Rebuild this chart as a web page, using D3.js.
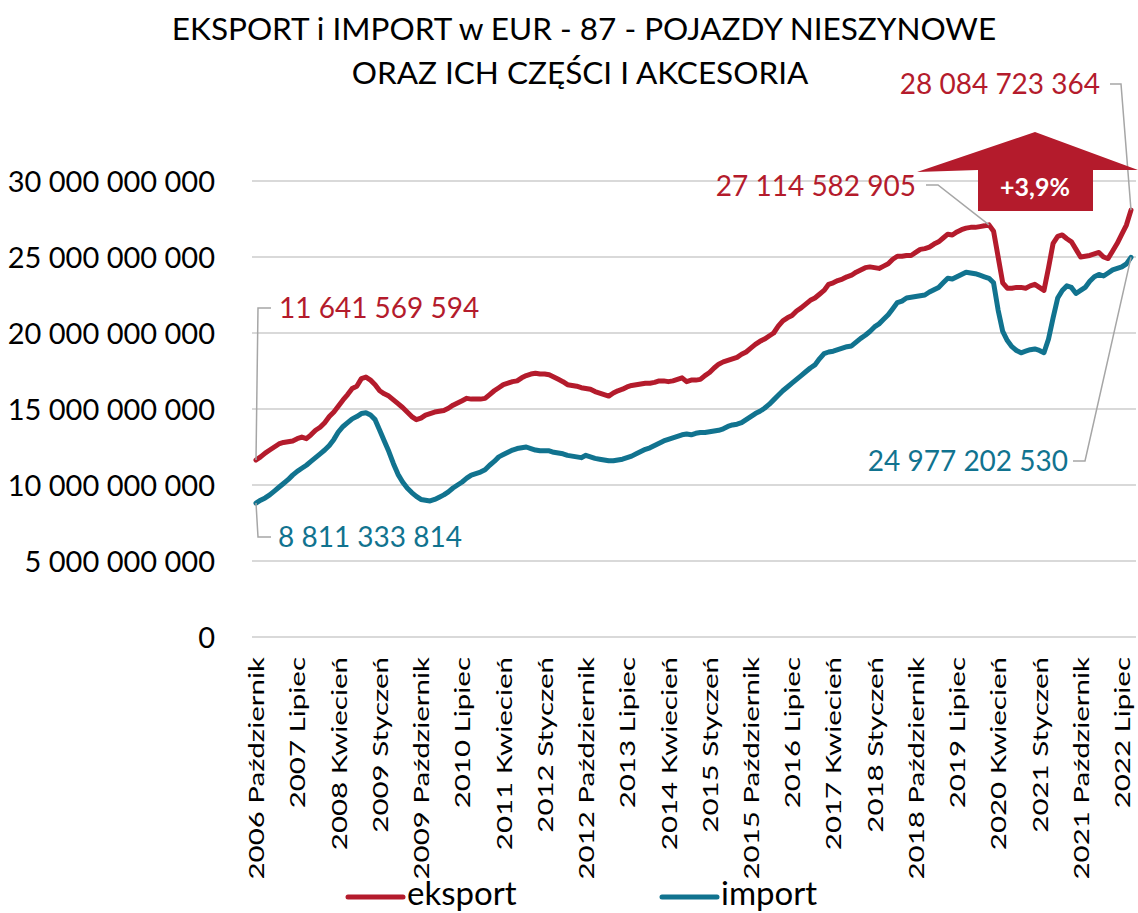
<!DOCTYPE html>
<html>
<head>
<meta charset="utf-8">
<script src="https://cdn.jsdelivr.net/npm/d3@7"></script>
<style>
  html, body { margin: 0; padding: 0; background: #fff; }
  svg { display: block; font-family: Lato, "Open Sans", "Noto Sans", sans-serif; }
</style>
</head>
<body>
<svg id="chart" width="1138" height="913"></svg>
<script>
// ---------- DATA (values in billions of EUR, monthly, 2006-10 .. 2022-09) ----------
const monthNames = ["Styczeń","Luty","Marzec","Kwiecień","Maj","Czerwiec","Lipiec","Sierpień","Wrzesień","Październik","Listopad","Grudzień"];
const startYear = 2006, startMonth = 9; // October (0-based)

const eksport = [
11.64,11.85,12.1,12.3,12.5,12.7,12.8,12.85,12.9,13.05,13.15,13.05,13.3,13.6,13.8,14.1,14.5,14.8,15.2,15.6,
15.95,16.35,16.5,17.0,17.1,16.9,16.6,16.2,16.0,15.85,15.6,15.35,15.1,14.8,14.5,14.3,14.4,14.6,14.7,14.8,
14.85,14.9,15.05,15.25,15.4,15.55,15.7,15.65,15.65,15.65,15.7,15.95,16.2,16.4,16.6,16.7,16.8,16.85,17.05,17.2,17.3,
17.35,17.3,17.3,17.25,17.1,16.95,16.8,16.6,16.55,16.5,16.4,16.35,16.3,16.15,16.05,15.95,15.85,16.05,16.2,16.3,
16.45,16.55,16.6,16.65,16.7,16.7,16.75,16.85,16.85,16.8,16.85,16.95,17.05,16.8,16.9,16.9,16.95,17.2,17.4,17.7,
17.95,18.1,18.2,18.3,18.4,18.6,18.75,19.0,19.25,19.45,19.6,19.8,20.0,20.45,20.8,21.0,21.15,21.45,21.65,21.9,
22.15,22.3,22.55,22.8,23.2,23.3,23.45,23.55,23.7,23.8,24.0,24.15,24.3,24.35,24.3,24.25,24.4,24.55,24.85,25.05,
25.05,25.1,25.1,25.3,25.5,25.55,25.65,25.85,26.0,26.25,26.5,26.45,26.65,26.8,26.9,26.95,26.95,27.0,27.05,27.114582905,26.7,
25.0,23.3,22.95,22.95,23.0,23.0,22.95,23.1,23.2,23.0,22.8,24.3,25.9,26.35,26.45,26.2,26.0,25.5,25.0,25.05,
25.1,25.2,25.3,25.0,24.9,25.4,25.9,26.5,27.1,28.084723364
];

const importValues = [
8.811333814,9.0,9.15,9.35,9.6,9.85,10.1,10.35,10.65,10.9,11.1,11.3,11.55,11.8,12.05,12.3,12.6,13.0,13.5,13.85,
14.1,14.35,14.5,14.7,14.75,14.6,14.3,13.6,12.9,12.2,11.4,10.7,10.2,9.8,9.5,9.25,9.05,9.0,8.95,9.05,
9.2,9.35,9.55,9.8,10.0,10.2,10.45,10.65,10.75,10.85,11.0,11.3,11.55,11.85,12.0,12.15,12.3,12.4,12.45,12.5,12.4,
12.3,12.25,12.25,12.25,12.15,12.1,12.05,11.95,11.9,11.85,11.8,11.95,11.85,11.75,11.7,11.65,11.6,11.6,11.65,11.7,
11.8,11.9,12.05,12.2,12.35,12.45,12.6,12.75,12.9,13.0,13.1,13.2,13.3,13.35,13.3,13.4,13.45,13.45,13.5,13.55,
13.6,13.7,13.85,13.95,14.0,14.1,14.3,14.5,14.7,14.85,15.05,15.3,15.6,15.9,16.2,16.45,16.7,16.95,17.2,17.45,
17.7,17.9,18.3,18.65,18.75,18.8,18.9,19.0,19.1,19.15,19.4,19.65,19.85,20.1,20.4,20.6,20.9,21.2,21.6,22.0,
22.1,22.3,22.35,22.4,22.45,22.5,22.7,22.85,23.0,23.3,23.6,23.55,23.7,23.85,24.0,23.95,23.9,23.8,23.7,23.6,23.3,
21.5,20.1,19.5,19.1,18.85,18.7,18.8,18.9,18.95,18.85,18.7,19.6,21.0,22.3,22.8,23.1,23.0,22.6,22.8,23.0,
23.4,23.7,23.85,23.75,23.95,24.15,24.25,24.35,24.55,24.977202530
];

const yTickValues = [0, 5, 10, 15, 20, 25, 30];
const yTickLabels = ["0","5 000 000 000","10 000 000 000","15 000 000 000","20 000 000 000","25 000 000 000","30 000 000 000"];
const xTickStep = 9;

const seriesNames = ["eksport", "import"];
const seriesColors = ["#b41b2c", "#11738f"];

const titleLines = ["EKSPORT i IMPORT w EUR - 87 - POJAZDY NIESZYNOWE", "ORAZ ICH CZĘŚCI I AKCESORIA"];
const annotationTexts = {
  eksFirst: "11 641 569 594",
  impFirst: "8 811 333 814",
  eksPeak: "27 114 582 905",
  impLast: "24 977 202 530",
  eksLast: "28 084 723 364",
  change: "+3,9%"
};

// ---------- CHART ----------
const n = eksport.length;
const categories = d3.range(n).map(i => {
  const m = startMonth + i;
  return (startYear + Math.floor(m / 12)) + " " + monthNames[m % 12];
});

const svg = d3.select("#chart");
const x = d3.scalePoint().domain(d3.range(n)).range([256, 1131]);
const y = d3.scaleLinear().domain([0, 30]).range([637, 181]);

// gridlines
svg.append("g").selectAll("line").data(yTickValues).join("line")
  .attr("x1", 252).attr("x2", 1136)
  .attr("y1", d => y(d)).attr("y2", d => y(d))
  .attr("stroke", "#d9d9d9").attr("stroke-width", 2);

// y axis labels
const yAxis = d3.axisLeft(y).tickValues(yTickValues)
  .tickFormat((d, i) => yTickLabels[i]).tickSize(0).tickPadding(0);
const gy = svg.append("g").attr("transform", "translate(215,0)").call(yAxis);
gy.select(".domain").remove();
gy.selectAll("text").attr("font-size", 29).attr("fill", "#000")
  .attr("font-family", "Lato, 'Open Sans', sans-serif").attr("dy", "0.35em");

// x axis labels
const xTicks = d3.range(0, n, xTickStep);
const xAxis = d3.axisBottom(x).tickValues(xTicks).tickFormat(i => categories[i]).tickSize(0).tickPadding(0);
const gx = svg.append("g").attr("transform", "translate(0,657)").call(xAxis);
gx.select(".domain").remove();
gx.selectAll("text")
  .attr("font-size", 22).attr("fill", "#000")
  .attr("font-family", "Lato, 'Open Sans', sans-serif")
  .attr("text-anchor", "end")
  .attr("transform", "rotate(-90) scale(1.34,1)")
  .attr("x", 0).attr("y", 0).attr("dy", "0.35em");

// lines
const line = d3.line().x((d, i) => x(i)).y(d => y(d));
[eksport, importValues].forEach((s, k) => {
  svg.append("path").datum(s)
    .attr("d", line)
    .attr("fill", "none")
    .attr("stroke", seriesColors[k])
    .attr("stroke-width", 5)
    .attr("stroke-linejoin", "round")
    .attr("stroke-linecap", "round");
});

// annotations
const red = seriesColors[0], blue = seriesColors[1];
const leader = "#a6a6a6";
const annFont = 28;
function lbl(text, xx, yy, color, anchor) {
  svg.append("text").attr("x", xx).attr("y", yy).attr("dy", "0.35em")
    .attr("text-anchor", anchor || "start")
    .attr("font-size", annFont).attr("fill", color).text(text);
}
function poly(pts) {
  svg.append("polyline").attr("points", pts.map(p => p.join(",")).join(" "))
    .attr("fill", "none").attr("stroke", leader).attr("stroke-width", 1.5);
}
// first eksport
poly([[x(0), y(eksport[0])], [258, 308], [271, 308]]);
lbl(annotationTexts.eksFirst, 279, 308, red);
// first import
poly([[x(0), y(importValues[0])], [258, 537], [271, 537]]);
lbl(annotationTexts.impFirst, 278, 537, blue);
// eksport peak 2019
const iPeak = eksport.indexOf(d3.max(eksport.slice(0, 170)));
poly([[x(iPeak), y(eksport[iPeak])], [938, 185], [926, 185]]);
lbl(annotationTexts.eksPeak, 916, 186, red, "end");
// import last
poly([[x(n - 1), y(importValues[n - 1])], [1085, 461], [1073, 461]]);
lbl(annotationTexts.impLast, 1068, 461, blue, "end");
// eksport last
poly([[x(n - 1), y(eksport[n - 1])], [1121, 84], [1110, 84]]);
lbl(annotationTexts.eksLast, 1100, 84, red, "end");

// arrow with change
const arrowPts = [[1035,132],[1138,170],[1093,170],[1093,211],[978,211],[978,170],[917,172]];
svg.append("polygon").attr("points", arrowPts.map(p => p.join(",")).join(" ")).attr("fill", red);
svg.append("text").attr("x", 1035).attr("y", 187).attr("dy", "0.35em")
  .attr("text-anchor", "middle").attr("font-size", 25).attr("font-weight", "bold")
  .attr("fill", "#fff").text(annotationTexts.change);

// title
svg.append("text").attr("x", 584).attr("y", 29).attr("dy", "0.35em")
  .attr("text-anchor", "middle").attr("font-size", 31.5).attr("fill", "#000").text(titleLines[0]);
svg.append("text").attr("x", 580).attr("y", 73).attr("dy", "0.35em")
  .attr("text-anchor", "middle").attr("font-size", 31.5).attr("fill", "#000").text(titleLines[1]);

// legend
const legendX = [348, 662];
seriesNames.forEach((name, k) => {
  svg.append("line").attr("x1", legendX[k]).attr("x2", legendX[k] + 55)
    .attr("y1", 897).attr("y2", 897)
    .attr("stroke", seriesColors[k]).attr("stroke-width", 5).attr("stroke-linecap", "round");
  svg.append("text").attr("x", legendX[k] + 59).attr("y", 905)
    .attr("font-size", 33).attr("fill", "#000").text(name);
});
</script>
</body>
</html>
